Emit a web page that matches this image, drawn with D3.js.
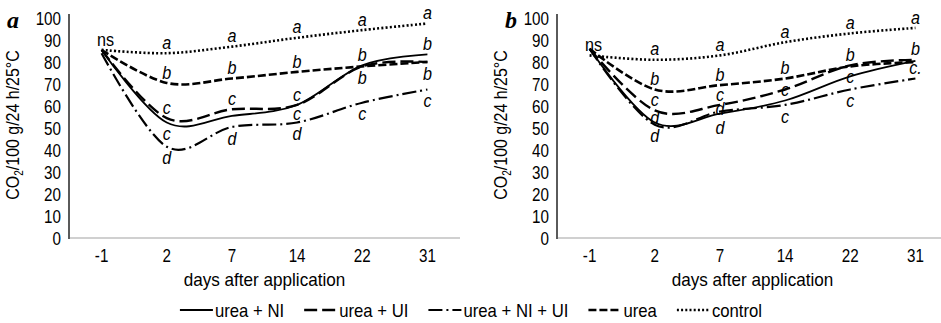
<!DOCTYPE html>
<html>
<head>
<meta charset="utf-8">
<script src="https://cdn.jsdelivr.net/npm/d3@7"></script>
<style>
  body { margin: 0; background: #fff; }
  svg { display: block; }
  text { font-family: "Liberation Sans Narrow", "Arial Narrow", "Liberation Sans", Arial, sans-serif; fill: #000; }
</style>
</head>
<body>
<svg id="chart" width="941" height="323"></svg>
<script>
// categories and ticks
var days = ["-1", "2", "7", "14", "22", "31"];
var yTicks = [0, 10, 20, 30, 40, 50, 60, 70, 80, 90, 100];
var seriesNames = ["urea + NI", "urea + UI", "urea + NI + UI", "urea", "control"];

// panel a values
var aNI = [85.5, 52.5, 55.5, 60.5, 78.5, 83.5];
var aUI = [85.5, 54.5, 58.5, 60.5, 78, 80];
var aNIUI = [84, 41.5, 50.5, 52.5, 61.5, 67.5];
var aUrea = [85.5, 70.5, 72.5, 75.5, 78, 80];
var aControl = [85.5, 84, 87, 91, 94.5, 97.5];

// panel b values
var bNI = [86, 52.5, 56.5, 62.5, 73.5, 80.5];
var bUI = [86, 58, 60.5, 67.5, 78.5, 81];
var bNIUI = [86, 51.5, 57.5, 60.5, 67.5, 72.5];
var bUrea = [86, 67.5, 69.5, 72.5, 78, 80];
var bControl = [83, 81, 83, 89, 93, 95.5];

// significance letters: u above, d below, D further below, n just above, m just below, o on the line
var aLetNI = ["", "c", "", "c", "b", "b"];
var aSideNI = ["", "d", "", "m", "u", "u"];
var aLetUI = ["", "c", "c", "c", "b", "b"];
var aSideUI = ["", "u", "u", "u", "d", "d"];
var aLetNIUI = ["", "d", "d", "d", "c", "c"];
var aSideNIUI = ["", "d", "d", "d", "d", "d"];
var aLetUrea = ["", "b", "b", "b", "", ""];
var aSideUrea = ["", "u", "u", "u", "", ""];
var aLetControl = ["ns", "a", "a", "a", "a", "a"];
var aSideControl = ["u", "u", "u", "u", "u", "u"];

var bLetNI = ["", "d", "d", "", "c", ""];
var bSideNI = ["", "n", "n", "", "o", ""];
var bLetUI = ["", "c", "c", "c", "b", "b"];
var bSideUI = ["", "u", "u", "o", "u", "u"];
var bLetNIUI = ["", "d", "d", "c", "c", "c."];
var bSideNIUI = ["", "d", "D", "d", "d", "u"];
var bLetUrea = ["", "b", "b", "b", "", ""];
var bSideUrea = ["", "u", "u", "u", "", ""];
var bLetControl = ["ns", "a", "a", "a", "a", "a"];
var bSideControl = ["u", "u", "u", "u", "u", "u"];

var styles = {
  "urea + NI": { dash: null, width: 1.8 },
  "urea + UI": { dash: "13,5", width: 2.4 },
  "urea + NI + UI": { dash: "14,4,2,4", width: 2.2 },
  "urea": { dash: "8,3", width: 2.6 },
  "control": { dash: "2,2.2", width: 2.6 }
};

var svg = d3.select("#chart");
var fontSize = 19;
var plotWidth = 391;
var sideShift = { u: -11, d: 11, D: 16, n: -5, m: 8, o: 0 };

// narrow the glyphs, the source font is a condensed one
function squeeze(sel, k) {
  sel.each(function() {
    var w = this.getComputedTextLength();
    d3.select(this).attr("textLength", w * k).attr("lengthAdjust", "spacingAndGlyphs");
  });
}

function drawPanel(left, tag, tagX, values, letters, sides) {
  var x = d3.scaleBand().domain(days).range([left, left + plotWidth]);
  var y = d3.scaleLinear().domain([0, 100]).range([238, 18]);
  var g = svg.append("g");

  // baseline
  g.append("line")
    .attr("x1", left).attr("x2", left + plotWidth)
    .attr("y1", y(0)).attr("y2", y(0))
    .attr("stroke", "#d0d0d0").attr("stroke-width", 2);

  // y axis
  var yAxis = d3.axisLeft(y).tickValues(yTicks).tickSize(0).tickPadding(8);
  var ya = g.append("g").attr("transform", "translate(" + left + ",0)").call(yAxis);
  ya.select(".domain").remove();
  ya.selectAll("text").style("font-size", fontSize + "px");
  squeeze(ya.selectAll("text"), 0.8);
  g.append("line")
    .attr("x1", left).attr("x2", left)
    .attr("y1", 14).attr("y2", y(0) + 1)
    .attr("stroke", "#5a5a5a").attr("stroke-width", 2);

  // x axis
  var xAxis = d3.axisBottom(x).tickSize(0).tickPadding(11);
  var xa = g.append("g").attr("transform", "translate(0," + y(0) + ")").call(xAxis);
  xa.select(".domain").remove();
  xa.selectAll("text").style("font-size", fontSize + "px");
  squeeze(xa.selectAll("text"), 0.8);

  var xt = g.append("text")
    .attr("x", left + plotWidth / 2)
    .attr("y", 286)
    .attr("text-anchor", "middle")
    .style("font-size", fontSize + "px")
    .text("days after application");
  squeeze(xt, 0.9);

  // y axis title
  var yt = g.append("text")
    .attr("transform", "translate(" + (left - 50) + ",125) rotate(-90) scale(0.84,1)")
    .attr("text-anchor", "middle")
    .style("font-size", fontSize + "px");
  yt.append("tspan").text("CO");
  yt.append("tspan").attr("dy", 4).style("font-size", "12px").text("2");
  yt.append("tspan").attr("dy", -4).text("/100 g/24 h/25°C");

  // panel tag
  g.append("text")
    .attr("x", tagX)
    .attr("y", 28)
    .style("font-family", "'Liberation Serif', 'DejaVu Serif', serif")
    .style("font-weight", "bold")
    .style("font-style", "italic")
    .style("font-size", "24px")
    .text(tag);

  var line = d3.line()
    .curve(d3.curveCardinal.tension(0))
    .x(function(d, i) { return x(days[i]) + x.bandwidth() / 2; })
    .y(function(d) { return y(d); });

  seriesNames.forEach(function(name, k) {
    var st = styles[name];
    g.append("path")
      .datum(values[k])
      .attr("d", line)
      .attr("fill", "none")
      .attr("stroke", "#000")
      .attr("stroke-width", st.width)
      .attr("stroke-dasharray", st.dash);
  });

  seriesNames.forEach(function(name, k) {
    var marks = letters[k]
      .map(function(t, i) { return { t: t, i: i, v: values[k][i], side: sides[k][i] }; })
      .filter(function(d) { return d.t !== ""; });
    var lt = g.selectAll(".let" + k)
      .data(marks)
      .enter()
      .append("text")
      .attr("class", "let" + k)
      .attr("x", function(d) { return x(days[d.i]) + x.bandwidth() / 2 + (d.t === "ns" ? 4 : 0); })
      .attr("y", function(d) { return y(d.v) + sideShift[d.side]; })
      .attr("dy", "0.35em")
      .attr("text-anchor", "middle")
      .style("font-size", fontSize + "px")
      .style("font-style", function(d) { return d.t === "ns" ? "normal" : "italic"; })
      .text(function(d) { return d.t; });
    squeeze(lt, 0.85);
  });
}

drawPanel(69, "a", 7,
  [aNI, aUI, aNIUI, aUrea, aControl],
  [aLetNI, aLetUI, aLetNIUI, aLetUrea, aLetControl],
  [aSideNI, aSideUI, aSideNIUI, aSideUrea, aSideControl]);

drawPanel(557, "b", 505,
  [bNI, bUI, bNIUI, bUrea, bControl],
  [bLetNI, bLetUI, bLetNIUI, bLetUrea, bLetControl],
  [bSideNI, bSideUI, bSideNIUI, bSideUrea, bSideControl]);

// legend
var legend = svg.append("g");
var lx = 0;
seriesNames.forEach(function(name) {
  var st = styles[name];
  var item = legend.append("g").attr("transform", "translate(" + lx + ",0)");
  item.append("line")
    .attr("x1", 0).attr("x2", 33)
    .attr("y1", 0).attr("y2", 0)
    .attr("stroke", "#000")
    .attr("stroke-width", st.width)
    .attr("stroke-dasharray", st.dash);
  var t = item.append("text")
    .attr("x", 35)
    .attr("dy", "0.35em")
    .style("font-size", fontSize + "px")
    .text(name);
  var w = t.node().getComputedTextLength() * 0.88;
  t.attr("textLength", w).attr("lengthAdjust", "spacingAndGlyphs");
  lx += 35 + w + 20;
});
lx -= 20;
legend.attr("transform", "translate(" + (471 - lx / 2) + ",310)");
</script>
</body>
</html>
